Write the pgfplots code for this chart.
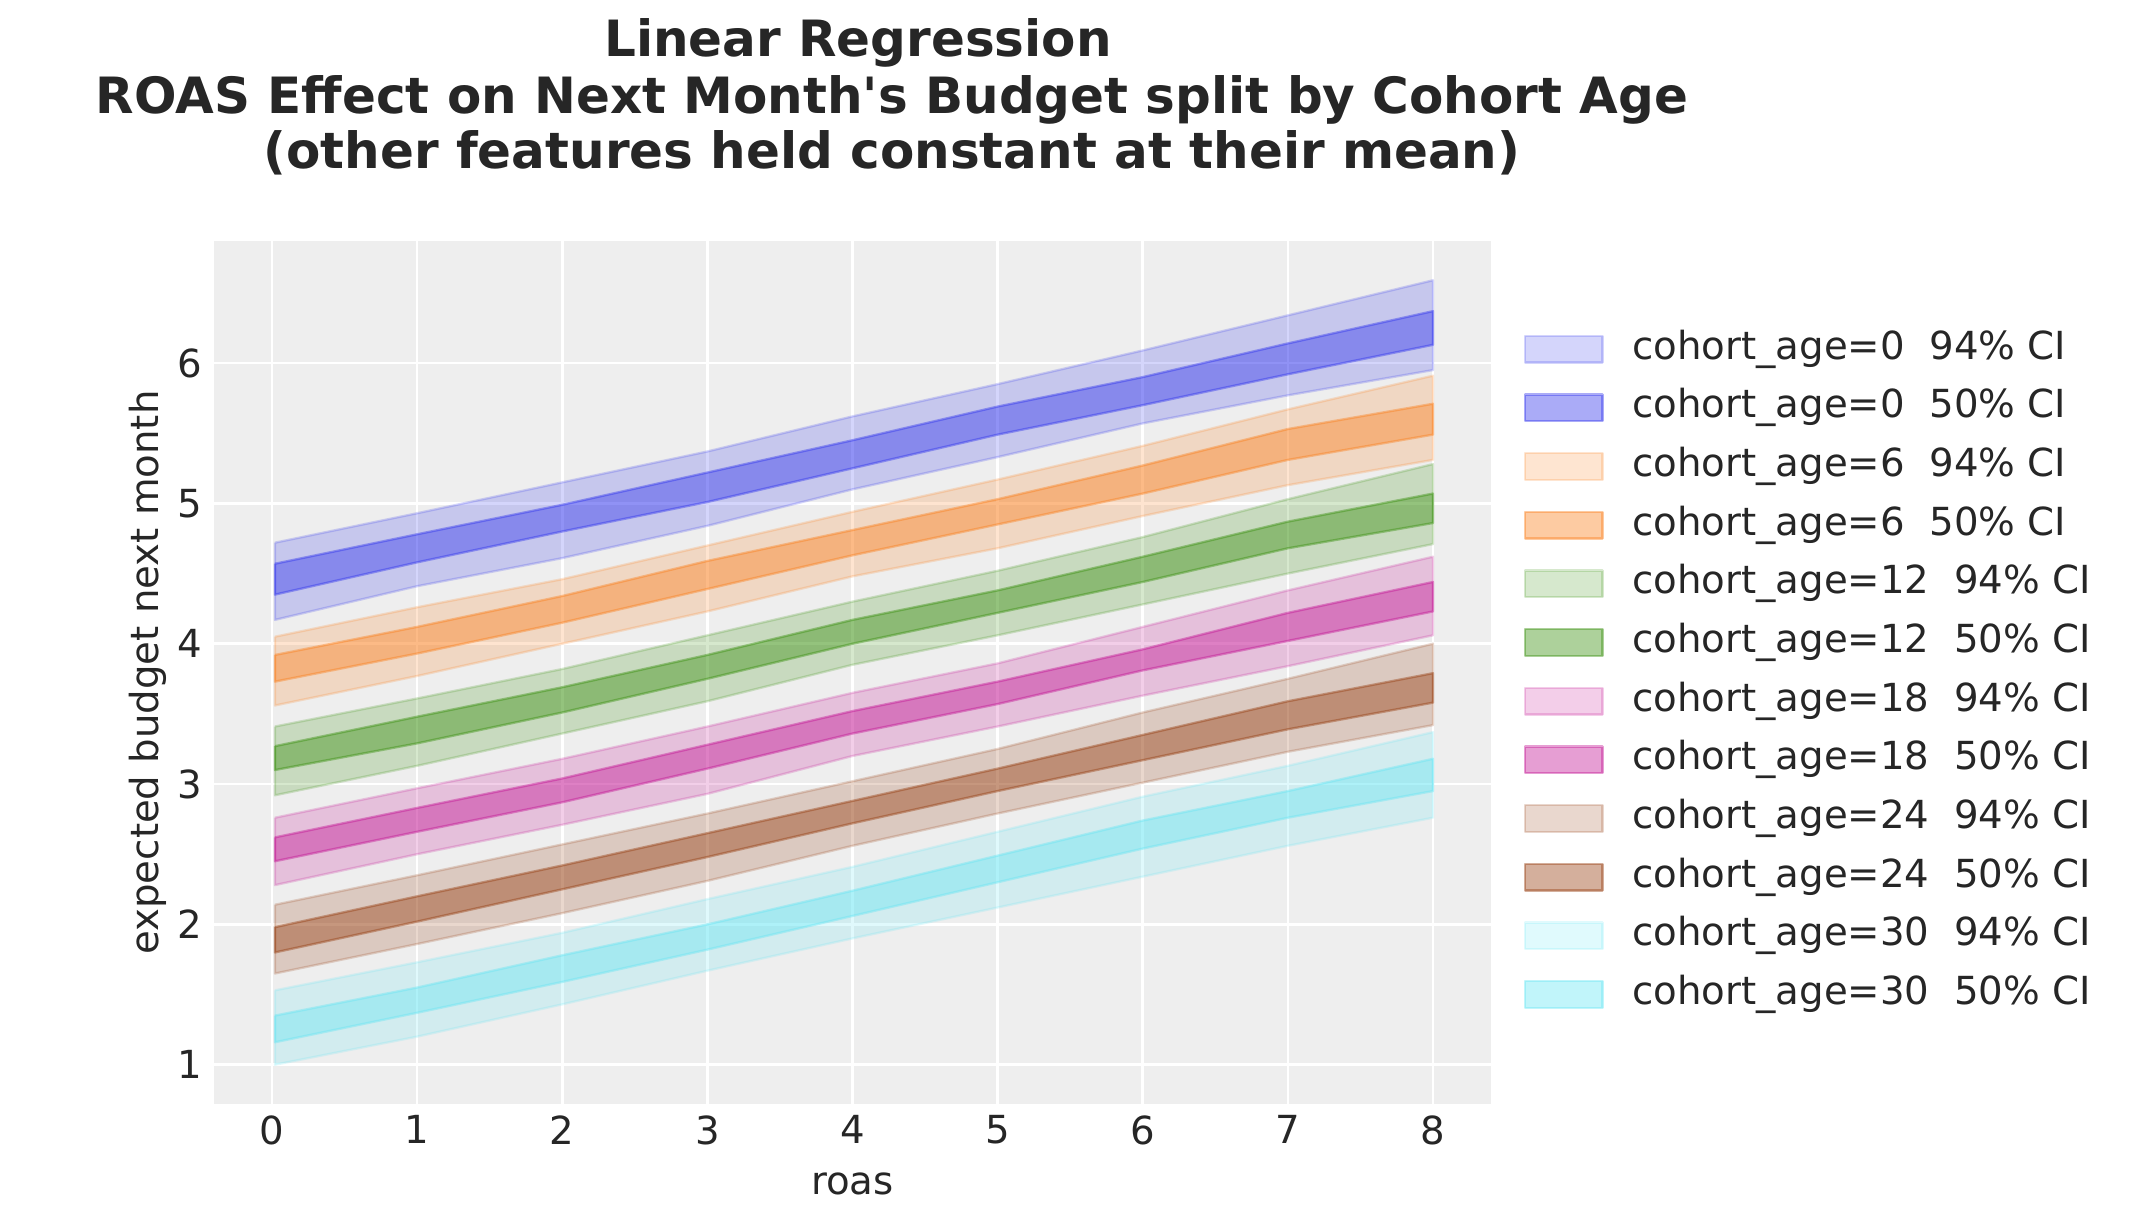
\documentclass[border=0pt]{standalone}
\usepackage{fontspec}
\setmainfont{DejaVu Sans}[Ligatures=TeXOff]
\usepackage{pgfplots}
\pgfplotsset{compat=1.18}
\definecolor{cA}{HTML}{2A2EEC}
\definecolor{cB}{HTML}{FA7C17}
\definecolor{cC}{HTML}{328C06}
\definecolor{cD}{HTML}{C10C90}
\definecolor{cE}{HTML}{933708}
\definecolor{cF}{HTML}{65E5F3}
\definecolor{bg}{HTML}{EEEEEE}
\definecolor{txt}{HTML}{262626}

\pgfplotsset{
  legimg/.style={legend image code/.code={\draw[##1] (0pt,-4pt) rectangle (23.3pt,4pt);}},
  b94/.style={fill=#1, fill opacity=0.2, draw=#1, draw opacity=0.2, line width=0.7pt, line join=round, legimg},
  b50/.style={fill=#1, fill opacity=0.4, draw=#1, draw opacity=0.4, line width=0.7pt, line join=round, legimg},
}

\begin{document}
\begin{tikzpicture}
\useasboundingbox (0,0) rectangle (639.3pt,366.9pt);
\begin{axis}[
  at={(64.2pt,35.7pt)}, anchor=south west,
  width=383.1pt, height=258.9pt, scale only axis,
  xmin=-0.4, xmax=8.4, ymin=0.72, ymax=6.87,
  xtick={0,1,2,3,4,5,6,7,8}, ytick={1,2,3,4,5,6},
  axis background/.style={fill=bg},
  axis line style={draw=none},
  major tick length=0pt,
  grid=major, major grid style={white, line width=0.8pt},
  tick label style={font=\fontsize{11.6}{13}\selectfont, text=txt},
  /pgf/number format/assume math mode=true,
  label style={font=\fontsize{11.6}{13}\selectfont, text=txt},
  xlabel={roas}, ylabel={expected budget next month},
  xlabel style={at={(axis description cs:0.5,-0.093)}, anchor=center},
  ylabel style={at={(axis description cs:-0.0517,0.5)}, anchor=center},
  legend cell align=left,
  legend style={at={(1.0251,0.8976)}, anchor=north west, draw=none, fill=none,
    font=\fontsize{11.6}{13}\selectfont, text=txt, inner sep=0pt,
    row sep=6.1pt,
    nodes={inner sep=0pt, text height=8.7pt, text depth=2.8pt},
    /tikz/every odd column/.style={column sep=8.6pt}},
]
% cohort_age = 0
\addplot[b94=cA] coordinates {(0.02,4.72)(1,4.93)(2,5.15)(3,5.37)(4,5.62)(5,5.85)(6,6.09)(7,6.34)(8,6.59)(8,5.95)(7,5.77)(6,5.57)(5,5.33)(4,5.10)(3,4.84)(2,4.61)(1,4.41)(0.02,4.17)(0.02,4.72)};
\addlegendentry{cohort\_age=0\ \ 94\% CI}
\addplot[b50=cA] coordinates {(0.02,4.57)(1,4.78)(2,4.99)(3,5.22)(4,5.45)(5,5.69)(6,5.90)(7,6.14)(8,6.37)(8,6.13)(7,5.92)(6,5.70)(5,5.49)(4,5.25)(3,5.01)(2,4.80)(1,4.58)(0.02,4.35)(0.02,4.57)};
\addlegendentry{cohort\_age=0\ \ 50\% CI}
% cohort_age = 6
\addplot[b94=cB] coordinates {(0.02,4.05)(1,4.26)(2,4.46)(3,4.70)(4,4.94)(5,5.17)(6,5.41)(7,5.67)(8,5.91)(8,5.31)(7,5.13)(6,4.91)(5,4.68)(4,4.48)(3,4.23)(2,4.00)(1,3.77)(0.02,3.56)(0.02,4.05)};
\addlegendentry{cohort\_age=6\ \ 94\% CI}
\addplot[b50=cB] coordinates {(0.02,3.92)(1,4.12)(2,4.34)(3,4.59)(4,4.81)(5,5.03)(6,5.27)(7,5.53)(8,5.71)(8,5.49)(7,5.31)(6,5.07)(5,4.85)(4,4.63)(3,4.39)(2,4.15)(1,3.93)(0.02,3.73)(0.02,3.92)};
\addlegendentry{cohort\_age=6\ \ 50\% CI}
% cohort_age = 12
\addplot[b94=cC] coordinates {(0.02,3.41)(1,3.61)(2,3.82)(3,4.06)(4,4.30)(5,4.52)(6,4.76)(7,5.03)(8,5.28)(8,4.71)(7,4.50)(6,4.28)(5,4.06)(4,3.85)(3,3.59)(2,3.36)(1,3.13)(0.02,2.92)(0.02,3.41)};
\addlegendentry{cohort\_age=12\ \ 94\% CI}
\addplot[b50=cC] coordinates {(0.02,3.27)(1,3.48)(2,3.69)(3,3.92)(4,4.17)(5,4.38)(6,4.62)(7,4.87)(8,5.07)(8,4.86)(7,4.68)(6,4.44)(5,4.22)(4,4.00)(3,3.75)(2,3.51)(1,3.29)(0.02,3.10)(0.02,3.27)};
\addlegendentry{cohort\_age=12\ \ 50\% CI}
% cohort_age = 18
\addplot[b94=cD] coordinates {(0.02,2.76)(1,2.97)(2,3.18)(3,3.41)(4,3.65)(5,3.86)(6,4.12)(7,4.38)(8,4.62)(8,4.06)(7,3.84)(6,3.63)(5,3.41)(4,3.20)(3,2.93)(2,2.71)(1,2.50)(0.02,2.28)(0.02,2.76)};
\addlegendentry{cohort\_age=18\ \ 94\% CI}
\addplot[b50=cD] coordinates {(0.02,2.62)(1,2.83)(2,3.04)(3,3.28)(4,3.52)(5,3.73)(6,3.96)(7,4.22)(8,4.44)(8,4.23)(7,4.02)(6,3.81)(5,3.57)(4,3.36)(3,3.11)(2,2.87)(1,2.66)(0.02,2.45)(0.02,2.62)};
\addlegendentry{cohort\_age=18\ \ 50\% CI}
% cohort_age = 24
\addplot[b94=cE] coordinates {(0.02,2.14)(1,2.35)(2,2.57)(3,2.79)(4,3.02)(5,3.25)(6,3.51)(7,3.75)(8,4.00)(8,3.42)(7,3.23)(6,3.01)(5,2.79)(4,2.56)(3,2.31)(2,2.08)(1,1.86)(0.02,1.65)(0.02,2.14)};
\addlegendentry{cohort\_age=24\ \ 94\% CI}
\addplot[b50=cE] coordinates {(0.02,1.98)(1,2.20)(2,2.42)(3,2.65)(4,2.88)(5,3.11)(6,3.35)(7,3.59)(8,3.79)(8,3.58)(7,3.39)(6,3.17)(5,2.95)(4,2.72)(3,2.48)(2,2.25)(1,2.02)(0.02,1.80)(0.02,1.98)};
\addlegendentry{cohort\_age=24\ \ 50\% CI}
% cohort_age = 30
\addplot[b94=cF] coordinates {(0.02,1.53)(1,1.73)(2,1.94)(3,2.18)(4,2.41)(5,2.66)(6,2.91)(7,3.13)(8,3.37)(8,2.76)(7,2.56)(6,2.34)(5,2.12)(4,1.90)(3,1.67)(2,1.43)(1,1.20)(0.02,1.00)(0.02,1.53)};
\addlegendentry{cohort\_age=30\ \ 94\% CI}
\addplot[b50=cF] coordinates {(0.02,1.35)(1,1.55)(2,1.78)(3,2.00)(4,2.24)(5,2.49)(6,2.74)(7,2.95)(8,3.18)(8,2.95)(7,2.76)(6,2.54)(5,2.30)(4,2.06)(3,1.82)(2,1.59)(1,1.37)(0.02,1.16)(0.02,1.35)};
\addlegendentry{cohort\_age=30\ \ 50\% CI}
\end{axis}
\node[text=txt, font=\fontsize{15}{16.5}\selectfont\bfseries] at (257.4pt,354pt) {Linear Regression};
\node[align=center, text=txt, font=\fontsize{15}{16.5}\selectfont\bfseries, anchor=north] at (267.6pt,347.7pt)
  {ROAS Effect on Next Month's Budget split by Cohort Age\\(other features held constant at their mean)};
\end{tikzpicture}
\end{document}
